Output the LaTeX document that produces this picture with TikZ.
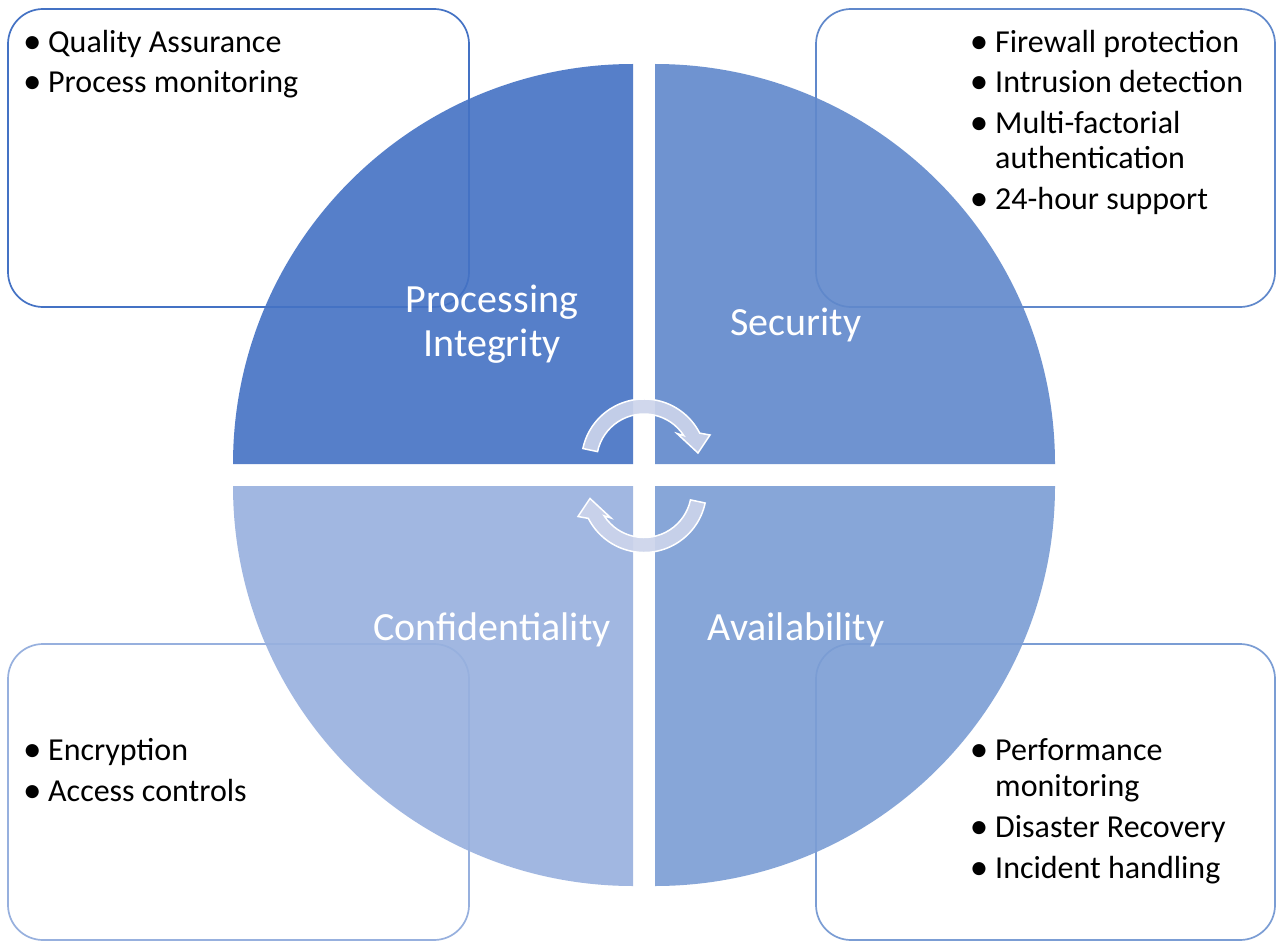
\documentclass[tikz,border=0pt]{standalone}
\usepackage{fontspec}
\setmainfont{Carlito}
\definecolor{qTL}{RGB}{68,114,196}
\definecolor{qTR}{RGB}{96,136,203}
\definecolor{qBR}{RGB}{123,157,212}
\definecolor{qBL}{RGB}{151,176,222}
\definecolor{arrowfill}{RGB}{204,212,235}
\begin{document}
\begin{tikzpicture}[x=1pt,y=1pt,
  infobox/.style={rounded corners=35pt, line width=1.7pt, fill=white},
  quad/.style={fill opacity=0.9, draw=none},
  itemtext/.style={anchor=base west, inner sep=0pt, font=\fontsize{32}{38}\selectfont},
  bul/.style={anchor=base, inner sep=0pt, yshift=-1pt, font=\fontsize{37}{38}\selectfont},
  lbl/.style={anchor=base, inner sep=0pt, text=white, font=\fontsize{40}{44}\selectfont},
  cyclearrow/.pic={
    \path[fill=arrowfill, fill opacity=0.92, draw=white, line width=1.5pt, line join=miter]
      (168:62.5) arc[start angle=168, end angle=27, radius=62.5]
      -- (66,26.5) -- (54,8.5) -- (33,28)
      -- (33:47.5) arc[start angle=33, end angle=168, radius=47.5] -- cycle;
  }]
\useasboundingbox (0,0) rectangle (1276,-941);
\fill[white] (0,0) rectangle (1276,-941);

% text boxes
\draw[infobox, draw=qTL] (8,-9) rectangle (469,-307);
\draw[infobox, draw=qTR] (816,-9) rectangle (1275,-307);
\draw[infobox, draw=qBL] (8,-644) rectangle (469,-940);
\draw[infobox, draw=qBR] (816,-644) rectangle (1275,-940);

% quadrants
\fill[quad, qTL] (633,-464) -- (233,-464) arc[start angle=180, end angle=90, radius=400] -- cycle;
\fill[quad, qTR] (655,-464) -- (655,-64) arc[start angle=90, end angle=0, radius=400] -- cycle;
\fill[quad, qBL] (633,-486) -- (633,-886) arc[start angle=270, end angle=180, radius=400] -- cycle;
\fill[quad, qBR] (655,-486) -- (1055,-486) arc[start angle=0, end angle=-90, radius=400] -- cycle;

% quadrant labels
\node[lbl] (pi1) at (492,-312) {Processing};
\node[lbl] (pi2) at (492,-356) {Integrity};
\node[lbl] (sec) at (796,-335) {Security};
\node[lbl] (conf) at (492,-640) {Confidentiality};
\node[lbl] (avail) at (796,-640) {Availability};

% cycle arrows
\pic at (644,-461.5) {cyclearrow};
\pic[rotate=180] at (644,-490) {cyclearrow};

% top-left list
\node[bul] (b11) at (32.3,-52.3) {•};
\node[itemtext] (t11) at (48,-52.3) {Quality Assurance};
\node[bul] (b12) at (32.3,-92.7) {•};
\node[itemtext] (t12) at (48,-92.7) {Process monitoring};

% top-right list
\node[bul] (b21) at (979,-52.3) {•};
\node[itemtext] (t21) at (995,-52.3) {Firewall protection};
\node[bul] (b22) at (979,-92.7) {•};
\node[itemtext] (t22) at (995,-92.7) {Intrusion detection};
\node[bul] (b23) at (979,-133.3) {•};
\node[itemtext] (t23) at (995,-133.3) {Multi-factorial};
\node[itemtext] (t23b) at (995,-168.3) {authentication};
\node[bul] (b24) at (979,-209.3) {•};
\node[itemtext] (t24) at (995,-209.3) {24-hour support};

% bottom-left list
\node[bul] (b31) at (32.3,-760.7) {•};
\node[itemtext] (t31) at (48,-760.7) {Encryption};
\node[bul] (b32) at (32.3,-801.7) {•};
\node[itemtext] (t32) at (48,-801.7) {Access controls};

% bottom-right list
\node[bul] (b41) at (979,-760.7) {•};
\node[itemtext] (t41) at (995,-760.7) {Performance};
\node[itemtext] (t41b) at (995,-796.7) {monitoring};
\node[bul] (b42) at (979,-837.3) {•};
\node[itemtext] (t42) at (995,-837.3) {Disaster Recovery};
\node[bul] (b43) at (979,-878.3) {•};
\node[itemtext] (t43) at (995,-878.3) {Incident handling};
\end{tikzpicture}
\end{document}
